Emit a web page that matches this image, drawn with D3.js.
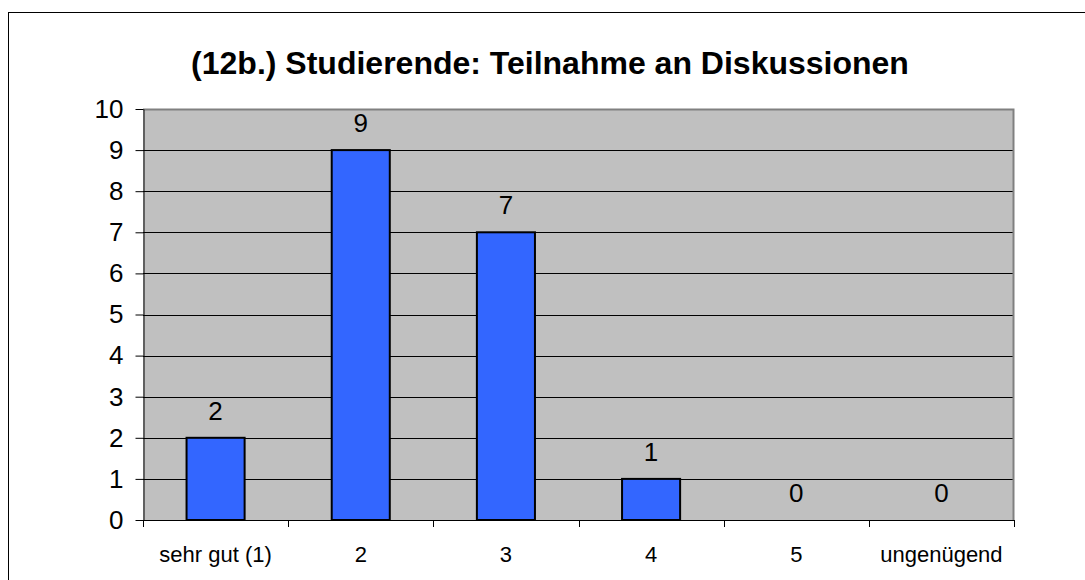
<!DOCTYPE html>
<html>
<head>
<meta charset="utf-8">
<script src="https://cdn.jsdelivr.net/npm/d3@7"></script>
<style>
  body { margin: 0; background: #fff; }
  svg { font-family: Arial, "Liberation Sans", sans-serif; }
</style>
</head>
<body>
<svg id="chart" width="1085" height="580"></svg>
<script>
const categories = ["sehr gut (1)", "2", "3", "4", "5", "ungenügend"];
const values = [2, 9, 7, 1, 0, 0];
const yTicks = [0, 1, 2, 3, 4, 5, 6, 7, 8, 9, 10];
const title = "(12b.) Studierende: Teilnahme an Diskussionen";

const MARGIN = { TOP: 109, BOTTOM: 60, LEFT: 143, RIGHT: 71 };
const width = 1085, height = 580;
const FONT = "Arial, 'Liberation Sans', sans-serif";

const svg = d3.select("#chart");

// outer chart frame
svg.append("rect")
  .attr("x", 8.5).attr("y", 12.5)
  .attr("width", 1100).attr("height", 600)
  .attr("fill", "#fff")
  .attr("stroke", "#000")
  .attr("stroke-width", 1);

const x = d3.scaleBand()
  .domain(categories)
  .range([MARGIN.LEFT, width - MARGIN.RIGHT])
  .paddingInner(0.6)
  .paddingOuter(0.3);

const xEdge = d3.scaleLinear()
  .domain([0, categories.length])
  .range([MARGIN.LEFT, width - MARGIN.RIGHT]);

const y = d3.scaleLinear()
  .domain([0, 10])
  .range([height - MARGIN.BOTTOM, MARGIN.TOP]);

// plot background
svg.append("rect")
  .attr("x", MARGIN.LEFT).attr("y", MARGIN.TOP)
  .attr("width", width - MARGIN.RIGHT - MARGIN.LEFT)
  .attr("height", y(0) - MARGIN.TOP)
  .attr("fill", "#c0c0c0");

// gridlines
svg.append("g")
  .selectAll("line")
  .data(yTicks.filter(d => d > 0 && d < 10))
  .enter().append("line")
  .attr("x1", MARGIN.LEFT).attr("x2", width - MARGIN.RIGHT)
  .attr("y1", d => Math.round(y(d)) + 0.5).attr("y2", d => Math.round(y(d)) + 0.5)
  .attr("stroke", "#000")
  .attr("stroke-width", 1);

// plot border top/right
svg.append("path")
  .attr("d", `M${MARGIN.LEFT},${MARGIN.TOP + 0.5}H${width - MARGIN.RIGHT - 0.5}V${y(0)}`)
  .attr("fill", "none")
  .attr("stroke", "#808080")
  .attr("stroke-width", 2);

// bars
svg.append("g")
  .selectAll("rect")
  .data(values)
  .enter().append("rect")
  .attr("x", (d, i) => x(categories[i]))
  .attr("y", d => y(d))
  .attr("width", x.bandwidth())
  .attr("height", d => y(0) - y(d))
  .attr("fill", "#3366ff")
  .attr("stroke", d => d > 0 ? "#000" : "none")
  .attr("stroke-width", 2);

// value labels
svg.append("g")
  .selectAll("text")
  .data(values)
  .enter().append("text")
  .attr("x", (d, i) => x(categories[i]) + x.bandwidth() / 2)
  .attr("y", d => y(d) - 18)
  .attr("text-anchor", "middle")
  .attr("font-size", 26)
  .attr("fill", "#000")
  .text(d => d);

// y axis
const yAxis = svg.append("g")
  .attr("transform", `translate(${MARGIN.LEFT + 0.5},0)`)
  .call(d3.axisLeft(y).tickValues(yTicks).tickSize(8).tickPadding(12).tickSizeOuter(0));
yAxis.select(".domain").attr("stroke", "#000");
yAxis.selectAll(".tick line").attr("stroke", "#000");
yAxis.selectAll("text").attr("font-size", 26).attr("font-family", FONT).attr("fill", "#000");

// x axis
const xg = svg.append("g");
xg.append("line")
  .attr("x1", MARGIN.LEFT).attr("x2", width - MARGIN.RIGHT)
  .attr("y1", y(0) + 0.5).attr("y2", y(0) + 0.5)
  .attr("stroke", "#000");
xg.selectAll(".xtick")
  .data(d3.range(categories.length + 1))
  .enter().append("line")
  .attr("class", "xtick")
  .attr("x1", d => Math.round(xEdge(d)) + 0.5).attr("x2", d => Math.round(xEdge(d)) + 0.5)
  .attr("y1", y(0)).attr("y2", y(0) + 7)
  .attr("stroke", "#000");
xg.selectAll("text")
  .data(categories)
  .enter().append("text")
  .attr("x", d => x(d) + x.bandwidth() / 2)
  .attr("y", y(0) + 42)
  .attr("text-anchor", "middle")
  .attr("font-size", 22)
  .attr("fill", "#000")
  .text(d => d);

// title
svg.append("text")
  .attr("x", 550)
  .attr("y", 74)
  .attr("text-anchor", "middle")
  .attr("font-size", 32)
  .attr("font-weight", "bold")
  .attr("fill", "#000")
  .text(title);
</script>
</body>
</html>
